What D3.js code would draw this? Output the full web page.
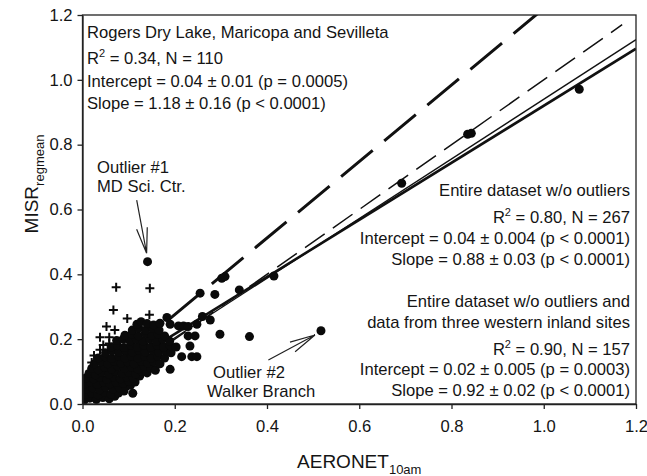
<!DOCTYPE html>
<html>
<head>
<meta charset="utf-8">
<script src="https://cdn.jsdelivr.net/npm/d3@7"></script>
<style>
  body { margin: 0; background: #fff; }
  text { font-family: Arial, "Liberation Sans", sans-serif; fill: #141414; }
</style>
</head>
<body>
<div id="main"></div>
<script>
// axis ticks
var xTicks = [0, 0.2, 0.4, 0.6, 0.8, 1.0, 1.2];
var yTicks = [0, 0.2, 0.4, 0.6, 0.8, 1.0, 1.2];

// regression / reference lines
var fitNames = ['rogers', 'oneToOne', 'noOutliers', 'noWestern'];
var fitIntercepts = [0.04, 0, 0.04, 0.02];
var fitSlopes = [1.18, 1, 0.88, 0.92];
var fitXMax = [1.2, 1.17, 1.2, 1.2];

// '+' markers (AERONET, MISR)
var plusPoints = [
  [0.073, 0.360], [0.146, 0.357], [0.067, 0.290], [0.145, 0.275], [0.097, 0.264],
  [0.052, 0.239], [0.070, 0.228], [0.038, 0.206], [0.058, 0.206], [0.058, 0.187],
  [0.038, 0.167], [0.045, 0.182], [0.025, 0.150], [0.020, 0.128]
];

// filled circles (AERONET, MISR)
var circlePoints = [
  [0.004, 0.012], [0.016, 0.018], [0.030, 0.014], [0.044, 0.020], [0.058, 0.016], [0.070, 0.024],
  [0.006, 0.030], [0.020, 0.034], [0.034, 0.028], [0.048, 0.036], [0.062, 0.030], [0.078, 0.034], [0.090, 0.040],
  [0.008, 0.046], [0.022, 0.050], [0.037, 0.044], [0.050, 0.052], [0.066, 0.046], [0.080, 0.050], [0.094, 0.054], [0.104, 0.058],
  [0.005, 0.062], [0.018, 0.066], [0.032, 0.060], [0.046, 0.068], [0.060, 0.062], [0.073, 0.066], [0.088, 0.064], [0.100, 0.070], [0.114, 0.068],
  [0.007, 0.080], [0.024, 0.078], [0.038, 0.082], [0.053, 0.076], [0.067, 0.084], [0.082, 0.078], [0.096, 0.084], [0.110, 0.080], [0.124, 0.086],
  [0.014, 0.094], [0.028, 0.090], [0.042, 0.098], [0.057, 0.092], [0.071, 0.100], [0.086, 0.094], [0.100, 0.098], [0.115, 0.092], [0.129, 0.100], [0.140, 0.096],
  [0.020, 0.110], [0.034, 0.106], [0.048, 0.114], [0.063, 0.108], [0.077, 0.116], [0.091, 0.110], [0.106, 0.114], [0.120, 0.108], [0.134, 0.116], [0.148, 0.110], [0.158, 0.104],
  [0.026, 0.124], [0.040, 0.130], [0.055, 0.124], [0.069, 0.132], [0.084, 0.126], [0.098, 0.130], [0.112, 0.124], [0.127, 0.132], [0.141, 0.126], [0.155, 0.130], [0.168, 0.124],
  [0.034, 0.142], [0.049, 0.146], [0.063, 0.140], [0.078, 0.148], [0.092, 0.142], [0.106, 0.148], [0.120, 0.142], [0.135, 0.148], [0.149, 0.142], [0.163, 0.148], [0.178, 0.142],
  [0.050, 0.158], [0.064, 0.164], [0.079, 0.160], [0.093, 0.166], [0.108, 0.160], [0.122, 0.166], [0.136, 0.160], [0.151, 0.166], [0.165, 0.160], [0.180, 0.164], [0.192, 0.158],
  [0.062, 0.176], [0.076, 0.180], [0.090, 0.174], [0.105, 0.182], [0.119, 0.176], [0.133, 0.182], [0.148, 0.176], [0.162, 0.182], [0.176, 0.176], [0.190, 0.180], [0.203, 0.176],
  [0.074, 0.196], [0.088, 0.200], [0.103, 0.194], [0.117, 0.200], [0.131, 0.194], [0.146, 0.200], [0.160, 0.194], [0.174, 0.200], [0.189, 0.194],
  [0.092, 0.212], [0.107, 0.216], [0.121, 0.210], [0.136, 0.218], [0.150, 0.212], [0.164, 0.216], [0.178, 0.210],
  [0.108, 0.228], [0.122, 0.234], [0.137, 0.228], [0.152, 0.234], [0.166, 0.228],
  [0.118, 0.246], [0.127, 0.254], [0.140, 0.248], [0.154, 0.244], [0.168, 0.249],
  [0.109, 0.033], [0.190, 0.107], [0.215, 0.146], [0.237, 0.146], [0.248, 0.146], [0.233, 0.179],
  [0.229, 0.210], [0.244, 0.210], [0.183, 0.267], [0.190, 0.246], [0.208, 0.241], [0.219, 0.241],
  [0.229, 0.239], [0.248, 0.246], [0.260, 0.270], [0.277, 0.259], [0.255, 0.342], [0.287, 0.338],
  [0.302, 0.388], [0.309, 0.393], [0.340, 0.352], [0.415, 0.395], [0.298, 0.215], [0.362, 0.208],
  [0.141, 0.439], [0.517, 0.226], [0.692, 0.681], [0.835, 0.832], [0.843, 0.835], [1.077, 0.971]
];

// text blocks
var topLeftLines = [
  'Rogers Dry Lake, Maricopa and Sevilleta',
  'R^2 = 0.34, N = 110',
  'Intercept = 0.04 \u00b1 0.01 (p = 0.0005)',
  'Slope = 1.18 \u00b1 0.16 (p < 0.0001)'
];
var rightLines1 = [
  'Entire dataset w/o outliers',
  'R^2 = 0.80, N = 267 ',
  'Intercept = 0.04 \u00b1 0.004 (p < 0.0001)',
  'Slope = 0.88 \u00b1 0.03 (p < 0.0001)'
];
var rightLines2 = [
  'Entire dataset w/o outliers and',
  'data from three western inland sites',
  'R^2 = 0.90, N = 157',
  'Intercept = 0.02 \u00b1 0.005 (p = 0.0003)',
  'Slope = 0.92 \u00b1 0.02 (p < 0.0001)'
];
var outlier1Lines = ['Outlier #1', 'MD Sci. Ctr.'];
var outlier2Lines = ['Outlier #2', 'Walker Branch'];

(function() {
  var W = 647, H = 476;
  var pLeft = 82.5, pRight = 636, pTop = 15, pBottom = 404;
  var fontSize = 16.6;

  var svg = d3.select('#main').append('svg')
    .attr('width', W).attr('height', H);

  var x = d3.scaleLinear().domain([0, 1.2]).range([pLeft, pRight]);
  var y = d3.scaleLinear().domain([0, 1.2]).range([pBottom, pTop]);

  svg.append('clipPath').attr('id', 'plotclip')
    .append('rect')
    .attr('x', pLeft).attr('y', pTop)
    .attr('width', pRight - pLeft).attr('height', pBottom - pTop);

  var plot = svg.append('g').attr('clip-path', 'url(#plotclip)');

  // fit lines (under the points)
  var lineStyles = {
    rogers:     { width: 3,   dash: '41,15' },
    oneToOne:   { width: 1.5, dash: '24,10' },
    noOutliers: { width: 2.6, dash: null },
    noWestern:  { width: 1.3, dash: null }
  };
  var fits = fitNames.map(function(n, i) {
    return { name: n, a: fitIntercepts[i], b: fitSlopes[i], xmax: fitXMax[i] };
  });
  plot.selectAll('line.fit').data(fits)
    .enter().append('line')
    .attr('class', 'fit')
    .attr('x1', x(0))
    .attr('y1', function(d) { return y(d.a); })
    .attr('x2', function(d) { return x(d.xmax); })
    .attr('y2', function(d) { return y(d.a + d.b * d.xmax); })
    .attr('stroke', '#111')
    .attr('stroke-width', function(d) { return lineStyles[d.name].width; })
    .attr('stroke-dasharray', function(d) { return lineStyles[d.name].dash; });

  // points
  plot.selectAll('circle.pt').data(circlePoints)
    .enter().append('circle')
    .attr('class', 'pt')
    .attr('cx', function(d) { return x(d[0]); })
    .attr('cy', function(d) { return y(d[1]); })
    .attr('r', 4.5)
    .attr('fill', '#0a0a0a');

  plot.selectAll('path.plus').data(plusPoints)
    .enter().append('path')
    .attr('class', 'plus')
    .attr('d', function(d) {
      var cx = x(d[0]), cy = y(d[1]), s = 4.5;
      return 'M' + (cx - s) + ',' + cy + 'H' + (cx + s) + 'M' + cx + ',' + (cy - s) + 'V' + (cy + s);
    })
    .attr('stroke', '#0a0a0a')
    .attr('stroke-width', 2);

  // axes
  var xAxis = d3.axisBottom(x).tickValues(xTicks).tickSize(5).tickSizeOuter(0)
    .tickPadding(11).tickFormat(d3.format('.1f'));
  var yAxis = d3.axisLeft(y).tickValues(yTicks).tickSize(5).tickSizeOuter(0)
    .tickPadding(5).tickFormat(d3.format('.1f'));

  var gx = svg.append('g').attr('transform', 'translate(0,' + pBottom + ')').call(xAxis);
  var gy = svg.append('g').attr('transform', 'translate(' + pLeft + ',0)').call(yAxis);
  [gx, gy].forEach(function(g) {
    g.selectAll('text').attr('font-size', fontSize)
      .attr('font-family', 'Arial, "Liberation Sans", sans-serif').attr('fill', '#141414');
    g.selectAll('line, path').attr('stroke', '#222').attr('stroke-width', 1.3);
  });

  svg.append('rect')
    .attr('x', pLeft).attr('y', pTop)
    .attr('width', pRight - pLeft).attr('height', pBottom - pTop)
    .attr('fill', 'none').attr('stroke', '#222').attr('stroke-width', 1.3);

  // text helper: '^2' becomes a superscript
  function addLine(g, tx, ty, anchor, str) {
    var t = g.append('text').attr('x', tx).attr('y', ty)
      .attr('text-anchor', anchor).attr('font-size', fontSize);
    var parts = str.split('^2');
    t.append('tspan').text(parts[0]);
    if (parts.length > 1) {
      t.append('tspan').attr('dy', -7).attr('font-size', 11).text('2');
      t.append('tspan').attr('dy', 7).text(parts[1]);
    }
    return t;
  }

  var notes = svg.append('g');
  var tlY = [38, 64, 86.5, 108.5];
  topLeftLines.forEach(function(s, i) { addLine(notes, 87, tlY[i], 'start', s); });

  var r1Y = [196, 222.5, 243.5, 264.5];
  rightLines1.forEach(function(s, i) { addLine(notes, 630, r1Y[i], 'end', s); });

  var r2Y = [306.5, 327.5, 354.5, 375, 396];
  rightLines2.forEach(function(s, i) { addLine(notes, 630, r2Y[i], 'end', s); });

  addLine(notes, 97, 172.7, 'start', outlier1Lines[0]);
  addLine(notes, 97, 191.7, 'start', outlier1Lines[1]);
  addLine(notes, 213, 378, 'start', outlier2Lines[0]);
  addLine(notes, 207, 396.7, 'start', outlier2Lines[1]);

  // arrows, in data units
  function arrow(from, to) {
    var x0 = x(from[0]), y0 = y(from[1]), x1 = x(to[0]), y1 = y(to[1]);
    var ang = Math.atan2(y0 - y1, x0 - x1), len = 26, spread = 12 * Math.PI / 180;
    var p = 'M' + x0 + ',' + y0 + 'L' + x1 + ',' + y1;
    [-spread, spread].forEach(function(s) {
      p += 'M' + x1 + ',' + y1 + 'L' + (x1 + len * Math.cos(ang + s)) + ',' + (y1 + len * Math.sin(ang + s));
    });
    notes.append('path').attr('d', p).attr('fill', 'none')
      .attr('stroke', '#222').attr('stroke-width', 1.2);
  }
  arrow([0.1175, 0.629], [0.139, 0.465]);
  arrow([0.403, 0.136], [0.504, 0.213]);

  // axis titles
  var xt = svg.append('text').attr('x', (pLeft + pRight) / 2).attr('y', 468)
    .attr('text-anchor', 'middle').attr('font-size', 19);
  xt.append('tspan').text('AERONET');
  xt.append('tspan').attr('dy', 6).attr('font-size', 13).text('10am');

  var yt = svg.append('text')
    .attr('transform', 'translate(38,184) rotate(-90)')
    .attr('text-anchor', 'middle').attr('font-size', 19);
  yt.append('tspan').text('MISR');
  yt.append('tspan').attr('dy', 6).attr('font-size', 13).text('regmean');
})();
</script>
</body>
</html>
